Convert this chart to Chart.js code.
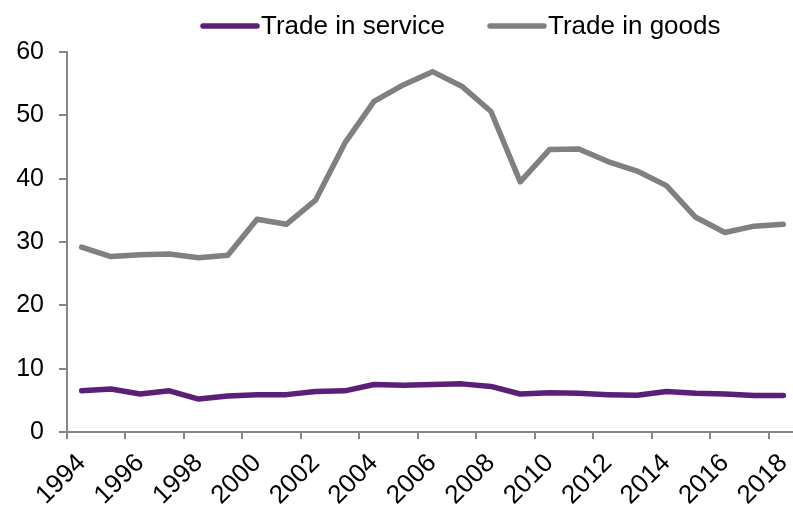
<!DOCTYPE html>
<html>
<head>
<meta charset="utf-8">
<title>Trade in services and goods</title>
<script src="https://cdn.jsdelivr.net/npm/chart.js@4/dist/chart.umd.min.js"></script>
<style>
    html, body { margin: 0; padding: 0; background: #ffffff; overflow: hidden; }
    #wrap { position: relative; width: 800px; height: 506px; }
</style>
</head>
<body>
<div id="wrap"><canvas id="tradeChart"></canvas></div>
<script>
// Years on the x-axis
const years = [
    '1994', '1995', '1996', '1997', '1998', '1999', '2000', '2001', '2002',
    '2003', '2004', '2005', '2006', '2007', '2008', '2009', '2010', '2011',
    '2012', '2013', '2014', '2015', '2016', '2017', '2018',
];

// Trade in service
const serviceValues = [
    6.5, 6.8, 6.0, 6.5, 5.2, 5.7, 5.9, 5.9, 6.4, 6.5, 7.5, 7.4, 7.5,
    7.6, 7.2, 6.0, 6.2, 6.1, 5.9, 5.8, 6.4, 6.1, 6.0, 5.75, 5.75,
];

// Trade in goods
const goodsValues = [
    29.2, 27.7, 28.0, 28.1, 27.5, 27.9, 33.6, 32.8, 36.6, 45.6, 52.2, 54.8, 56.9,
    54.6, 50.6, 39.5, 44.6, 44.7, 42.7, 41.2, 38.9, 33.9, 31.5, 32.5, 32.8,
];

const yTicks = [0, 10, 20, 30, 40, 50, 60];

const axisGrey = '#868686';
const fontFamily = '"Liberation Sans", Arial, sans-serif';

// Legend drawn as a line sample followed by the series name
const lineLegend = {
    id: 'lineLegend',
    afterDraw(chart) {
        const ctx = chart.ctx;
        const startX = [203, 490];
        const y = 26;
        ctx.save();
        ctx.font = '26px ' + fontFamily;
        ctx.textBaseline = 'middle';
        ctx.textAlign = 'left';
        chart.data.datasets.forEach((ds, i) => {
            const x = startX[i];
            ctx.strokeStyle = ds.borderColor;
            ctx.lineWidth = 5.5;
            ctx.lineCap = 'round';
            ctx.beginPath();
            ctx.moveTo(x, y);
            ctx.lineTo(x + 54, y);
            ctx.stroke();
            ctx.fillStyle = '#000000';
            ctx.fillText(ds.label, x + 58, y + 1);
        });
        ctx.restore();
    },
};

function createTradeChart() {
    const ctx = document.getElementById('tradeChart').getContext('2d');
    new Chart(ctx, {
        type: 'line',
        data: {
            labels: years,
            datasets: [
                {
                    label: 'Trade in service',
                    data: serviceValues,
                    borderColor: '#5b1f78',
                    borderWidth: 5.5,
                    borderCapStyle: 'round',
                    borderJoinStyle: 'round',
                    pointRadius: 0,
                    tension: 0,
                },
                {
                    label: 'Trade in goods',
                    data: goodsValues,
                    borderColor: '#808080',
                    borderWidth: 5.5,
                    borderCapStyle: 'round',
                    borderJoinStyle: 'round',
                    pointRadius: 0,
                    tension: 0,
                },
            ],
        },
        plugins: [lineLegend],
        options: {
            responsive: true,
            maintainAspectRatio: false,
            animation: false,
            layout: { padding: { top: 52, left: 0, right: 2, bottom: 0 } },
            plugins: {
                legend: { display: false },
                tooltip: { enabled: false },
            },
            scales: {
                x: {
                    type: 'category',
                    offset: true,
                    afterFit: (scale) => {
                        scale.height = 74;
                        scale.paddingLeft = 0;
                        scale.paddingRight = 0;
                    },
                    border: { color: axisGrey, width: 2 },
                    grid: {
                        offset: true,
                        drawOnChartArea: false,
                        tickLength: 7,
                        lineWidth: 2,
                        // tick marks only at the start of even years
                        color: (c) => (c.index % 2 === 0 ? axisGrey : 'rgba(0,0,0,0)'),
                    },
                    ticks: {
                        autoSkip: false,
                        maxRotation: 45,
                        minRotation: 45,
                        padding: 9,
                        color: '#000000',
                        font: { family: fontFamily, size: 26 },
                        callback: (value, index) => (index % 2 === 0 ? years[index] : ''),
                    },
                },
                y: {
                    min: yTicks[0],
                    max: yTicks[yTicks.length - 1],
                    afterFit: (scale) => { scale.width = 67; },
                    afterBuildTicks: (scale) => {
                        scale.ticks = yTicks.map((v) => ({ value: v }));
                    },
                    border: { color: axisGrey, width: 2 },
                    grid: {
                        drawOnChartArea: false,
                        tickLength: 8,
                        lineWidth: 2,
                        color: axisGrey,
                    },
                    ticks: {
                        padding: 15,
                        color: '#000000',
                        font: { family: fontFamily, size: 25 },
                    },
                },
            },
        },
    });
}

document.addEventListener('DOMContentLoaded', createTradeChart);
</script>
</body>
</html>
